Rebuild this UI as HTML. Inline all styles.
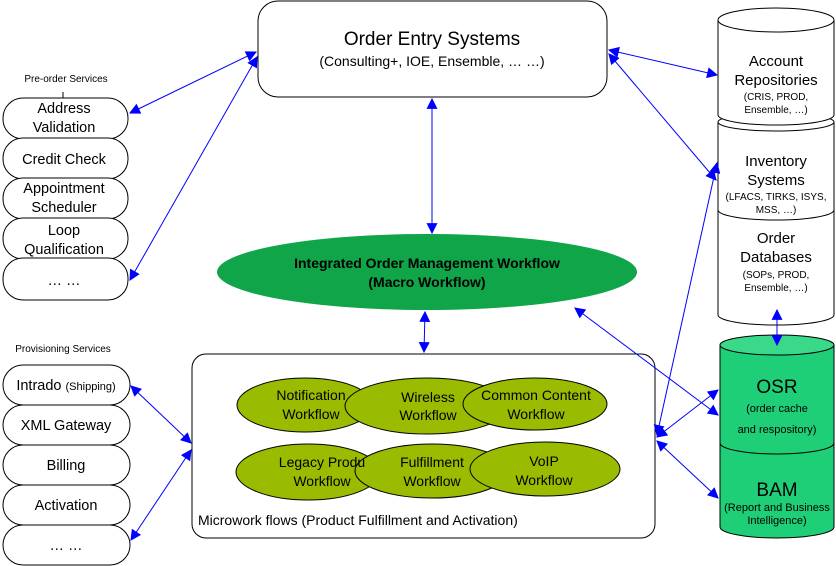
<!DOCTYPE html><html><head><style>body{margin:0;background:#fff}svg{display:block}text{font-family:"Liberation Sans",Arial,sans-serif}</style></head><body>
<svg width="836" height="566" viewBox="0 0 836 566" xmlns="http://www.w3.org/2000/svg">
<defs><marker id="a" viewBox="0 0 10 10" refX="9" refY="5" markerWidth="13" markerHeight="11" markerUnits="userSpaceOnUse" orient="auto-start-reverse"><path d="M0,0 L10,5 L0,10z" fill="#00f"/></marker></defs>
<g fill="#fff" stroke="#000" stroke-width="1">
<rect x="258" y="1" width="349" height="96" rx="20"/>
<rect x="3" y="98" width="125" height="41" rx="20"/><rect x="3" y="138" width="125" height="41" rx="20"/><rect x="3" y="178" width="125" height="41" rx="20"/><rect x="3" y="218" width="125" height="41" rx="20"/><rect x="3" y="258" width="125" height="42" rx="20"/>
<rect x="3" y="365" width="127" height="40" rx="20"/><rect x="3" y="405" width="127" height="40" rx="20"/><rect x="3" y="445" width="127" height="40" rx="20"/><rect x="3" y="485" width="127" height="40" rx="20"/><rect x="3" y="525" width="127" height="40" rx="20"/>
<rect x="192" y="354" width="463" height="184" rx="14"/>
</g>
<line x1="63" y1="92" x2="63" y2="98" stroke="#000"/>
<ellipse cx="427" cy="272" rx="210" ry="38" fill="#10a548"/>
<g fill="#99bb00" stroke="#000">
<ellipse cx="305" cy="405" rx="68" ry="27"/><ellipse cx="427" cy="406" rx="82" ry="28"/><ellipse cx="535" cy="404" rx="72" ry="26"/>
<ellipse cx="308" cy="472" rx="72" ry="28"/><ellipse cx="432" cy="471" rx="77" ry="27"/><ellipse cx="545" cy="469" rx="75" ry="27"/>
</g>
<g stroke="#000" fill="#fff">
<path d="M718,205 v110 a58,10 0 0 0 116,0 v-110"/><ellipse cx="776" cy="205" rx="58" ry="9"/>
<path d="M718,122 v88 a58,10 0 0 0 116,0 v-88"/><ellipse cx="776" cy="122" rx="58" ry="9"/>
<path d="M718,20 v95 a58,10 0 0 0 116,0 v-95"/><ellipse cx="776" cy="20" rx="58" ry="12"/>
</g>
<g stroke="#000" fill="#1fcf78">
<path d="M720,432 v95 a57,11 0 0 0 114,0 v-95"/><ellipse cx="777" cy="432" rx="57" ry="10" fill="#3ad98a"/>
<path d="M720,345 v98 a57,11 0 0 0 114,0 v-98"/><ellipse cx="777" cy="345" rx="57" ry="10" fill="#3ad98a"/>
</g>
<g stroke="#00f" stroke-width="1" marker-start="url(#a)" marker-end="url(#a)">
<line x1="256" y1="52" x2="130" y2="113"/><line x1="257" y1="57" x2="130" y2="280"/>
<line x1="432" y1="99" x2="432" y2="233"/>
<line x1="609" y1="50" x2="717" y2="75"/><line x1="609" y1="54" x2="716" y2="180"/>
<line x1="425" y1="312" x2="424" y2="352"/>
<line x1="575" y1="308" x2="718" y2="415"/>
<line x1="657" y1="437" x2="718" y2="390"/>
<line x1="657" y1="435" x2="717" y2="163"/>
<line x1="657" y1="441" x2="718" y2="498"/>
<line x1="777" y1="310" x2="777" y2="345"/>
<line x1="131" y1="386" x2="191" y2="443"/><line x1="131" y1="540" x2="191" y2="450"/>
</g>
<g font-size="12" text-anchor="middle" fill="#000">
<text x="432" y="45" font-size="19">Order Entry Systems</text>
<text x="432" y="66" font-size="14">(Consulting+, IOE, Ensemble, … …)</text>
<text x="66" y="82" font-size="10">Pre-order Services</text>
<g font-size="14.5"><text x="64" y="113">Address</text><text x="64" y="132">Validation</text><text x="64" y="164">Credit Check</text><text x="64" y="193">Appointment</text><text x="64" y="212">Scheduler</text><text x="64" y="235">Loop</text><text x="64" y="254">Qualification</text><text x="64" y="285">… …</text></g>
<text x="63" y="352" font-size="10">Provisioning Services</text>
<g font-size="14.5"><text x="66" y="390">Intrado <tspan font-size="11">(Shipping)</tspan></text><text x="66" y="430">XML Gateway</text><text x="66" y="470">Billing</text><text x="66" y="510">Activation</text><text x="66" y="550">… …</text></g>
<g font-size="14" font-weight="bold"><text x="427" y="268">Integrated Order Management Workflow</text><text x="427" y="287">(Macro Workflow)</text></g>
<g font-size="14"><text x="311" y="400">Notification</text><text x="311" y="419">Workflow</text><text x="428" y="402">Wireless</text><text x="428" y="420">Workflow</text><text x="536" y="400">Common Content</text><text x="536" y="419">Workflow</text>
<text x="322" y="467">Legacy Produ</text><text x="322" y="486">Workflow</text><text x="432" y="467">Fulfillment</text><text x="432" y="486">Workflow</text><text x="544" y="466">VoIP</text><text x="544" y="485">Workflow</text></g>
<text x="198" y="525" font-size="14" text-anchor="start">Microwork flows (Product Fulfillment and Activation)</text>
<g font-size="15"><text x="776" y="66">Account</text><text x="776" y="85">Repositories</text><text x="776" y="166">Inventory</text><text x="776" y="185">Systems</text><text x="776" y="243">Order</text><text x="776" y="262">Databases</text></g>
<g font-size="10"><text x="776" y="100">(CRIS, PROD,</text><text x="776" y="113">Ensemble, …)</text><text x="776" y="200">(LFACS, TIRKS, ISYS,</text><text x="776" y="213">MSS, …)</text><text x="776" y="278">(SOPs, PROD,</text><text x="776" y="291">Ensemble, …)</text></g>
<text x="777" y="393" font-size="19">OSR</text><text x="777" y="412" font-size="11">(order cache</text><text x="777" y="433" font-size="11">and respository)</text>
<text x="777" y="496" font-size="19">BAM</text><text x="777" y="511" font-size="11">(Report and Business</text><text x="777" y="524" font-size="11">Intelligence)</text>
</g>
</svg></body></html>
